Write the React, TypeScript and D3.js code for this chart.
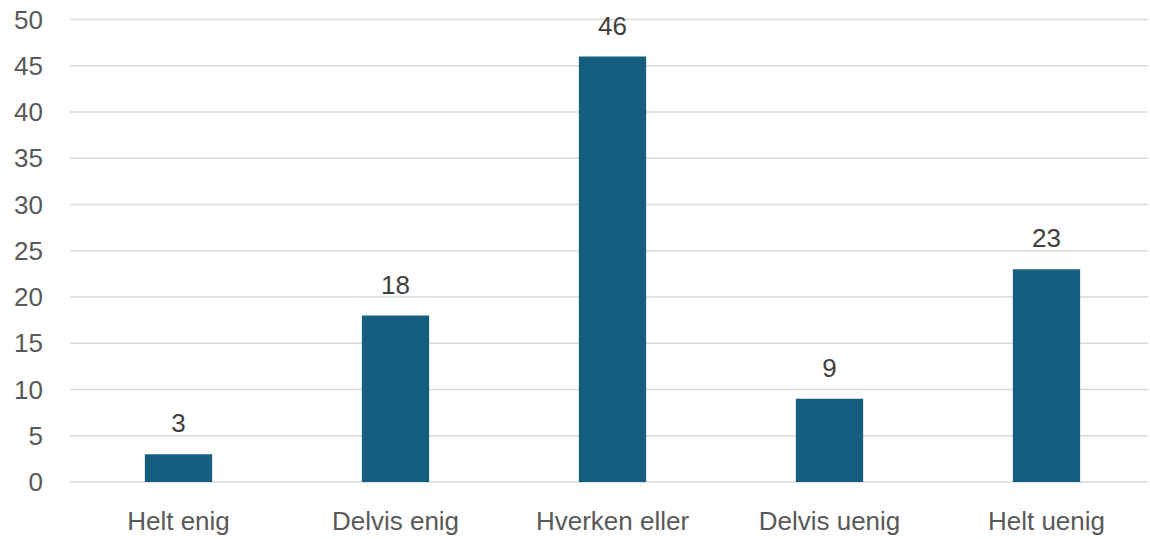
import React from "react";
import * as d3 from "d3";

const categories = ["Helt enig", "Delvis enig", "Hverken eller", "Delvis uenig", "Helt uenig"];
const values = [3, 18, 46, 9, 23];
const yTicks = [0, 5, 10, 15, 20, 25, 30, 35, 40, 45, 50];

export default function App() {
  const W = 1150, H = 539;
  const left = 70, right = 1148, top = 19.5, bottom = 482;
  const x = d3.scaleBand<string>().domain(categories).range([left, left + 5 * 217]).paddingInner(0.69).paddingOuter(0.345);
  const y = d3.scaleLinear().domain([0, 50]).range([bottom, top]);
  const font = "'Liberation Sans', Arial, sans-serif";
  return (
    <svg width={W} height={H} style={{ position: "absolute", left: 0, top: 0, background: "#fff" }}>
      {yTicks.map(t => (
        <g key={t}>
          <line x1={left} x2={right} y1={y(t)} y2={y(t)} stroke="#d9d9d9" strokeWidth={1.5} />
          <text x={43} y={y(t)} dy="0.35em" textAnchor="end" fontFamily={font} fontSize={26} fill="#595959">{t}</text>
        </g>
      ))}
      {categories.map((c, i) => {
        const bx = x(c)!;
        const bw = x.bandwidth();
        return (
          <g key={c}>
            <rect x={bx} y={y(values[i])} width={bw} height={y(0) - y(values[i])} fill="#165E80" />
            <text x={bx + bw / 2} y={y(values[i]) - 22} textAnchor="middle" fontFamily={font} fontSize={26} fill="#404040">{values[i]}</text>
            <text x={bx + bw / 2} y={530} textAnchor="middle" fontFamily={font} fontSize={26} fill="#595959">{c}</text>
          </g>
        );
      })}
    </svg>
  );
}
